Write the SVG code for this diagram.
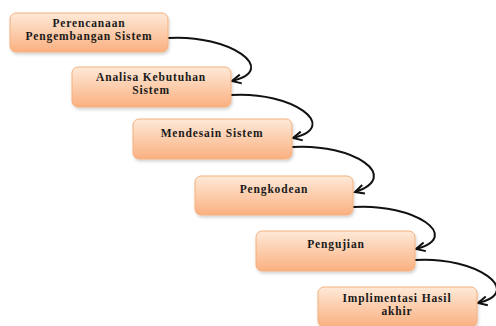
<svg xmlns="http://www.w3.org/2000/svg" width="496" height="326" viewBox="0 0 496 326">
<style>
.box{fill:url(#g);stroke:#f4b07e;stroke-width:1;filter:url(#sh)}
.t{font-family:"Liberation Serif","Times New Roman",serif;font-weight:bold;font-size:11.5px;letter-spacing:0.85px;fill:#1a1a1a;text-anchor:middle}
.c{fill:none;stroke:#111;stroke-width:2;marker-end:url(#ah)}
</style>
<defs>
<linearGradient id="g" x1="0" y1="0" x2="0" y2="1">
<stop offset="0" stop-color="#fee9d8"/>
<stop offset="1" stop-color="#fab080"/>
</linearGradient>
<filter id="sh" x="-10%" y="-20%" width="120%" height="150%">
<feDropShadow dx="1" dy="2" stdDeviation="1.5" flood-color="#000" flood-opacity="0.18"/>
</filter>
<marker id="ah" markerUnits="userSpaceOnUse" markerWidth="14" markerHeight="14" viewBox="-12 -7 14 14" refX="0" refY="0" orient="auto">
<path d="M-9,-4.5 L0,0 L-9,4.5" fill="none" stroke="#111" stroke-width="2"/>
</marker>
</defs>
<g id="connectors">
<path class="c" d="M168,38 c62,-4 112,32 64,43"/>
<path class="c" d="M231,95 c62,-4 110,32 62,43"/>
<path class="c" d="M292,147 c62,-4 110,30 63,45"/>
<path class="c" d="M353,207 c62,-4 110,30 63,42"/>
<path class="c" d="M415,260 c62,-4 110,32 63,43"/>
</g>
<g id="n1">
<rect class="box" x="10" y="13" width="158" height="39" rx="6"/>
<text class="t" x="89" y="27">Perencanaan</text>
<text class="t" x="89" y="40">Pengembangan Sistem</text>
</g>
<g id="n2">
<rect class="box" x="72" y="67" width="159" height="40" rx="6"/>
<text class="t" x="151" y="81">Analisa Kebutuhan</text>
<text class="t" x="151" y="94">Sistem</text>
</g>
<g id="n3">
<rect class="box" x="133" y="119" width="159" height="40" rx="6"/>
<text class="t" x="212" y="137">Mendesain Sistem</text>
</g>
<g id="n4">
<rect class="box" x="195" y="176" width="158" height="39" rx="6"/>
<text class="t" x="274" y="193">Pengkodean</text>
</g>
<g id="n5">
<rect class="box" x="256" y="231" width="159" height="40" rx="6"/>
<text class="t" x="336" y="248">Pengujian</text>
</g>
<g id="n6">
<rect class="box" x="318" y="287" width="159" height="40" rx="6"/>
<text class="t" x="397" y="302">Implimentasi Hasil</text>
<text class="t" x="397" y="315">akhir</text>
</g>
</svg>
